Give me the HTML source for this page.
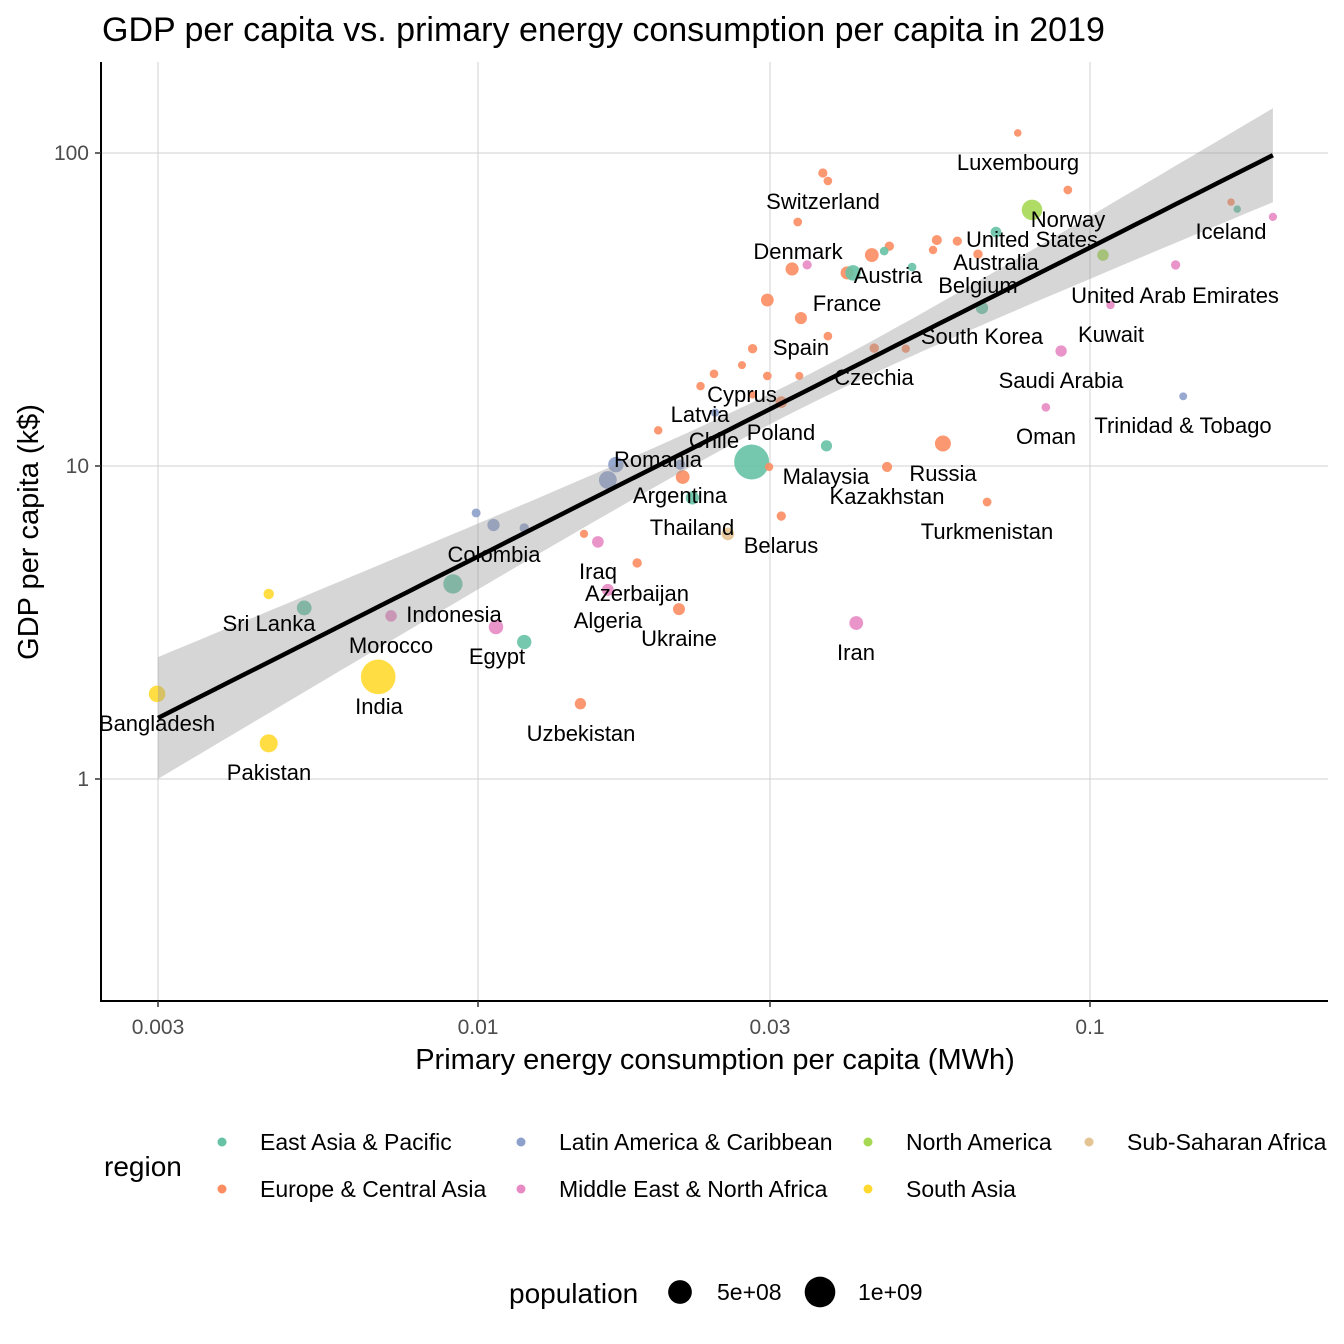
<!DOCTYPE html>
<html><head><meta charset="utf-8">
<style>
html,body{margin:0;padding:0;background:#fff;}
svg{display:block;font-family:"Liberation Sans",Arial,sans-serif;}
</style></head>
<body>
<svg id="chart" width="1344" height="1344" viewBox="0 0 1344 1344" xmlns="http://www.w3.org/2000/svg">
<text x="102" y="41" font-size="34" fill="#000">GDP per capita vs. primary energy consumption per capita in 2019</text>
<g id="grid"></g>
<g id="points"></g>
<g id="smooth"></g>
<g id="labels"></g>
<g id="axes"></g>
<text x="715" y="1069" font-size="29" text-anchor="middle">Primary energy consumption per capita (MWh)</text>
<text transform="translate(38,532) rotate(-90)" font-size="29" text-anchor="middle">GDP per capita (k$)</text>
<g id="legend">
<text x="104" y="1176" font-size="28">region</text>
</g>
<g id="sizelegend">
<text x="509" y="1303" font-size="28">population</text>
</g>
</svg>
<script>
const energy=[0.0762,0.0366,0.0373,0.0920,0.0804,0.0333,0.0702,0.0562,0.0607,0.0470,0.0461,0.0440,0.0554,0.0656,0.0345,0.0326,0.0401,0.0410,0.0512,0.0297,0.0337,0.0666,0.0373,0.0281,0.0444,0.0500,0.0897,0.0270,0.0243,0.0297,0.0335,0.0231,0.0281,0.0313,0.0847,0.0197,0.0280,0.0371,0.0575,0.0244,0.0299,0.0466,0.0168,0.0163,0.0214,0.0216,0.0224,0.0313,0.00993,0.0106,0.0119,0.0149,0.0157,0.0256,0.0182,0.00910,0.0163,0.0213,0.0415,0.0107,0.0119,0.00520,0.00455,0.00721,0.00687,0.00299,0.00455,0.0147,0.0679,0.105,0.138,0.108,0.142,0.170,0.174,0.199];
const gdp=[115.9,86.3,81.4,76.2,65.8,60.2,55.9,52.7,52.3,50.4,48.6,47.2,49.0,47.5,43.9,42.6,41.4,41.4,43.2,33.9,29.7,32.0,26.0,23.7,23.8,23.7,23.3,21.0,19.7,19.4,19.4,18.0,16.9,16.0,15.4,13.0,10.3,11.6,11.8,14.8,9.93,9.93,10.1,9.02,10.1,9.22,7.91,6.92,7.08,6.48,6.34,6.07,5.72,6.07,4.90,4.20,4.02,3.49,3.15,3.06,2.74,3.52,3.90,3.32,2.12,1.87,1.30,1.74,7.67,47.2,43.9,32.7,16.7,69.7,66.2,62.5];
const region=["E","E","E","E","N","E","A","E","E","E","A","E","E","E","M","E","E","A","A","E","E","A","E","E","E","E","M","E","E","E","E","E","E","E","M","E","A","A","E","L","E","E","L","L","L","E","A","E","L","L","L","E","M","S","E","A","M","E","M","M","A","A","H","M","H","H","H","E","E","N","M","M","L","E","A","M"];
const population=[0.6,8.6,5,5.4,328,5.8,25,17,9,10,5,83,4,11,9,67,67,126,5,60,47,51,5,10,10.6,3,34,2,5,5,2,4,1.2,38,5,4,1400,32,144,3,3,18,128,211,19,83,70,9.4,7,50,10,3,39,58,10,270,43,44,83,100,96,108,21,36,1366,163,217,33,6,37,9.8,4,1.4,0.36,0.4,2.8];
const xTicks=[0.003,0.01,0.03,0.1];
const xTickLabels=["0.003","0.01","0.03","0.1"];
const yTicks=[1,10,100];
const yTickLabels=["1","10","100"];
const regionNames=["East Asia & Pacific","Europe & Central Asia","Latin America & Caribbean","Middle East & North Africa","North America","South Asia","Sub-Saharan Africa"];
const regionCodes=["A","E","L","M","N","H","S"];
const regionColors={A:"#66c2a5",E:"#fc8d62",L:"#8da0cb",M:"#e78ac3",N:"#a6d854",H:"#ffd92f",S:"#e5c494"};
const sizeBreaks=[5e8,1e9];
const sizeLabels=["5e+08","1e+09"];
const fitIntercept=2.685, fitSlope=0.987;

const PX0=101,PX1=1328,PY0=62,PY1=1001;
function xs(v){return 478+(Math.log10(v)+2)*612;}
function ys(v){return 466-(Math.log10(v)-1)*313;}
function rs(p){return 3.5+14*Math.sqrt(p/1400);}
const NS="http://www.w3.org/2000/svg";
function mk(tag,attrs,parent){const e=document.createElementNS(NS,tag);for(const k in attrs)e.setAttribute(k,attrs[k]);parent.appendChild(e);return e;}

const grid=document.getElementById('grid');
xTicks.forEach((t,i)=>{
  const l=mk('line',{x1:xs(t),x2:xs(t),y1:PY0,y2:PY1,stroke:"#d0d0d0","stroke-width":1},grid);
  
  
});
yTicks.forEach((t,i)=>{
  const l=mk('line',{x1:PX0,x2:PX1,y1:ys(t),y2:ys(t),stroke:"#d0d0d0","stroke-width":1},grid);
  
  
});

const pts=document.getElementById('points');
energy.forEach((e,i)=>{
  const c=mk('circle',{cx:xs(e),cy:ys(gdp[i]),r:rs(population[i]),fill:regionColors[region[i]],"fill-opacity":0.9},pts);
  
  
});

const sm=document.getElementById('smooth');
const xa=0.003, xb=0.199;
function fit(x){return Math.pow(10,fitIntercept+fitSlope*Math.log10(x));}
let upperPts=[],lowerPts=[],linePts=[];
for(let k=0;k<=80;k++){
  const lx=Math.log10(xa)+(Math.log10(xb)-Math.log10(xa))*k/80;
  const x=Math.pow(10,lx);const px=xs(x),py=ys(fit(x));
  const hw=Math.sqrt(225+0.00863*(px-793.6)*(px-793.6));
  upperPts.push(px.toFixed(1)+","+(py-hw).toFixed(1));
  lowerPts.unshift(px.toFixed(1)+","+(py+hw).toFixed(1));
  linePts.push(px.toFixed(1)+","+py.toFixed(1));
}
const rib=mk('polygon',{points:upperPts.concat(lowerPts).join(" "),fill:"#999999","fill-opacity":0.4},sm);


const fl=mk('polyline',{points:linePts.join(" "),fill:"none",stroke:"#000","stroke-width":4.5},sm);



const labs=[["Luxembourg",1018,162],["Switzerland",823,201],["Norway",1068,219],["United States",1032,239],["Iceland",1231,231],["Denmark",798,251],["Australia",996,262],["Austria",888,275],["Belgium",978,285],["United Arab Emirates",1175,295],["France",847,303],["South Korea",982,336],["Kuwait",1111,334],["Spain",801,347],["Czechia",874,377],["Saudi Arabia",1061,380],["Cyprus",742,394],["Latvia",700,414],["Trinidad & Tobago",1183,425],["Poland",781,432],["Chile",714,440],["Oman",1046,436],["Romania",658,459],["Malaysia",826,476],["Russia",943,473],["Argentina",680,495],["Kazakhstan",887,496],["Thailand",692,527],["Turkmenistan",987,531],["Belarus",781,545],["Colombia",494,554],["Iraq",598,571],["Azerbaijan",637,593],["Indonesia",454,614],["Algeria",608,620],["Sri Lanka",269,623],["Ukraine",679,638],["Morocco",391,645],["Egypt",497,656],["Iran",856,652],["India",379,706],["Bangladesh",157,723],["Uzbekistan",581,733],["Pakistan",269,772]];
const lg=document.getElementById('labels');
labs.forEach(l=>{
  const t=mk('text',{x:l[1],y:l[2]+8,"font-size":22,"text-anchor":"middle",fill:"#000"},lg);
  t.textContent=l[0];
  
  
});

const ax=document.getElementById('axes');
const al=mk('line',{x1:PX0,x2:PX0,y1:PY0,y2:PY1+1,stroke:"#000","stroke-width":2},ax);


const bl=mk('line',{x1:PX0-1,x2:PX1,y1:PY1,y2:PY1,stroke:"#000","stroke-width":2},ax);


xTicks.forEach((t,i)=>{
  const tk=mk('line',{x1:xs(t),x2:xs(t),y1:PY1,y2:PY1+6,stroke:"#333","stroke-width":1.5},ax);
  
  
  const tx=mk('text',{x:xs(t),y:1034,"font-size":21,"text-anchor":"middle",fill:"#4d4d4d"},ax);
  tx.textContent=xTickLabels[i];
  
  
});
yTicks.forEach((t,i)=>{
  const tk=mk('line',{x1:PX0-6,x2:PX0,y1:ys(t),y2:ys(t),stroke:"#333","stroke-width":1.5},ax);
  
  
  const tx=mk('text',{x:89,y:ys(t)+7,"font-size":21,"text-anchor":"end",fill:"#4d4d4d"},ax);
  tx.textContent=yTickLabels[i];
  
  
});

const leg=document.getElementById('legend');
const colDot=[222,521,868,1089], colTxt=[260,559,906,1127], rowY=[1142,1189];
regionNames.forEach((n,i)=>{
  const col=Math.floor(i/2), row=i%2;
  const c=mk('circle',{cx:colDot[col],cy:rowY[row],r:4.5,fill:regionColors[regionCodes[i]]},leg);
  
  
  const t=mk('text',{x:colTxt[col],y:rowY[row]+8,"font-size":23},leg);
  t.textContent=n;
  
  
});
const sl=document.getElementById('sizelegend');
const sDot=[680,820], sTxt=[717,858];
sizeBreaks.forEach((b,i)=>{
  const c=mk('circle',{cx:sDot[i],cy:1292,r:rs(b/1e6),fill:"#000"},sl);
  
  
  const t=mk('text',{x:sTxt[i],y:1300,"font-size":23},sl);
  t.textContent=sizeLabels[i];
  
  
});
</script>
</body></html>
